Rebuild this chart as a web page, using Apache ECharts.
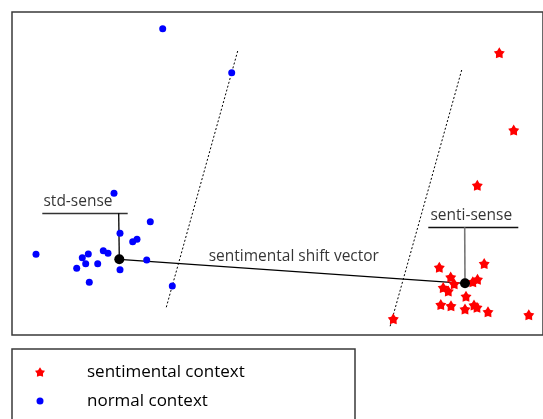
<!DOCTYPE html>
<html>
<head>
<meta charset="utf-8">
<script src="https://cdn.jsdelivr.net/npm/echarts@6/dist/echarts.min.js"></script>
<style>html,body{margin:0;padding:0;background:#fff;}#c{width:543px;height:419px;}</style>
</head>
<body>
<div id="c"></div>
<script>
// Data (arbitrary embedding units; y grows downward)
const normalContext = [
  [162.7, 28.7], [231.7, 72.7], [114, 193.3], [150.3, 221.7], [120, 233.3],
  [132.7, 241.7], [137, 239.3], [36, 254.3], [103.3, 250.7], [108, 253.3],
  [88.3, 254], [82.3, 257.7], [85.7, 263.7], [76.7, 268.3], [97.7, 263.7],
  [146.7, 260], [120, 269.7], [89.3, 282.3], [172.3, 286]
];
const sentimentalContext = [
  [499.3, 52.7], [513.7, 130], [477.3, 185.3], [484.2, 263.5], [439.3, 267.3],
  [450.7, 277], [477.5, 279.3], [472.8, 281.7], [454.2, 283.8], [443.2, 287.5],
  [448.3, 291], [466, 296.2], [440.8, 304.5], [451, 305.7], [465, 309],
  [474, 305], [477, 307.3], [488, 311.7], [528.8, 314.8], [393.3, 318.8]
];
const stdSense = [119.3, 259.3];
const sentiSense = [465, 283.3];
const boundaryLeft = [[237.7, 51], [166, 308.3]];
const boundaryRight = [[461.7, 70], [390, 326.7]];
const stdLabel = { text: 'std-sense', pos: [78, 202], line: [[42.3, 213.3], [127.7, 213.3]] };
const sentiLabel = { text: 'senti-sense', pos: [471.3, 215.7], line: [[428.3, 227.3], [518.3, 227.3]] };
const shiftLabel = { text: 'sentimental shift vector', pos: [293.8, 256.7] };
const legendNames = ['sentimental context', 'normal context'];

const FONT = '"Open Sans", sans-serif';
const TXT = '#000';
const STAR = 'path://M0,-10 L3.6,-4.2 L9.5,-3.1 L5.6,1.8 L5.9,8.1 L0,6 L-5.9,8.1 L-5.6,1.8 L-9.5,-3.1 L-3.6,-4.2 Z';

const chart = echarts.init(document.getElementById('c'), null, { renderer: 'canvas' });
chart.setOption({
  animation: false,
  backgroundColor: '#fff',
  grid: { left: 12, top: 12, width: 531, height: 323, show: true, borderColor: '#3a3a3a', borderWidth: 1.5, backgroundColor: 'transparent' },
  xAxis: { type: 'value', min: 12, max: 543, show: false },
  yAxis: { type: 'value', min: 12, max: 335, inverse: true, show: false },
  graphic: [{
    type: 'rect', shape: { x: 12, y: 349, width: 343, height: 80 },
    style: { fill: 'none', stroke: '#3a3a3a', lineWidth: 1.5 }, silent: true
  }],
  legend: [
    {
      data: [{ name: legendNames[0], icon: STAR, itemStyle: { opacity: 1 } }],
      left: 35, top: 362, itemWidth: 10, itemHeight: 10, padding: 0,
      textStyle: { fontFamily: FONT, fontSize: 17, color: TXT, padding: [0, 0, 0, 37], lineHeight: 20 }
    },
    {
      data: [{ name: legendNames[1], icon: 'circle', itemStyle: { opacity: 1 } }],
      left: 36.5, top: 391, itemWidth: 7, itemHeight: 7, padding: 0,
      textStyle: { fontFamily: FONT, fontSize: 17, color: TXT, padding: [0, 0, 0, 38.5], lineHeight: 20 }
    }
  ],
  series: [
    {
      name: legendNames[0], type: 'scatter', data: sentimentalContext,
      symbol: STAR, symbolSize: 11, itemStyle: { color: '#ff0000', opacity: 1 }, z: 5
    },
    {
      name: legendNames[1], type: 'scatter', data: normalContext,
      symbol: 'circle', symbolSize: 7, itemStyle: { color: '#0000ff', opacity: 1 }, z: 5,
      markLine: {
        silent: true, symbol: 'none', label: { show: false },
        lineStyle: { color: '#000', width: 1, type: [2, 2], opacity: 1 },
        data: [
          [{ coord: boundaryLeft[0] }, { coord: boundaryLeft[1] }],
          [{ coord: boundaryRight[0] }, { coord: boundaryRight[1] }]
        ]
      }
    },
    {
      name: 'annotations', type: 'scatter', data: [stdSense, sentiSense],
      symbol: 'circle', symbolSize: 10, itemStyle: { color: '#000', opacity: 1 }, z: 8,
      markLine: {
        silent: true, symbol: 'none', label: { show: false },
        data: [
          [{ coord: stdSense, lineStyle: { color: '#000', width: 1.2, type: 'solid', opacity: 1 } }, { coord: sentiSense }],
          [{ coord: stdLabel.line[0], lineStyle: { color: '#333', width: 1.3, type: 'solid', opacity: 1 } }, { coord: stdLabel.line[1] }],
          [{ coord: [stdSense[0] - 0.6, stdLabel.line[0][1]], lineStyle: { color: '#000', width: 1.3, type: 'solid', opacity: 1 } }, { coord: stdSense }],
          [{ coord: sentiLabel.line[0], lineStyle: { color: '#111', width: 1.3, type: 'solid', opacity: 1 } }, { coord: sentiLabel.line[1] }],
          [{ coord: [sentiSense[0] - 0.3, sentiLabel.line[0][1]], lineStyle: { color: '#777', width: 1.6, type: 'solid', opacity: 1 } }, { coord: sentiSense }]
        ]
      }
    },
    {
      name: 'labels', type: 'scatter', symbolSize: 0, z: 9,
      data: [
        { name: stdLabel.text, value: stdLabel.pos },
        { name: sentiLabel.text, value: sentiLabel.pos },
        { name: shiftLabel.text, value: shiftLabel.pos }
      ],
      label: {
        show: true, position: 'inside', formatter: p => p.name,
        fontFamily: FONT, fontSize: 15.5, color: TXT
      }
    }
  ]
});
</script>
</body>
</html>
